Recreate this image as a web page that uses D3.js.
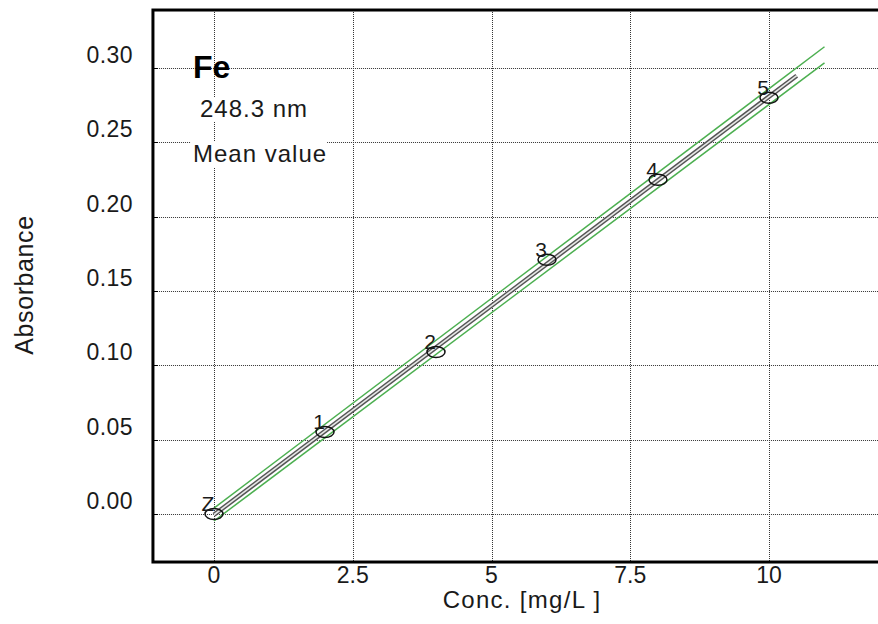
<!DOCTYPE html>
<html>
<head>
<meta charset="utf-8">
<script src="https://cdn.jsdelivr.net/npm/d3@7"></script>
<style>
  body { margin: 0; background: #fff; }
  svg text { font-family: "Liberation Sans", Arial, sans-serif; fill: #1a1a1a; }
</style>
</head>
<body>
<div id="chart"></div>
<script>
// calibration standards (Fe, 248.3 nm)
const labels = ["Z", "1", "2", "3", "4", "5"];
const conc = [0, 2, 4, 6, 8, 10];
const absorbance = [0.000, 0.0552, 0.109, 0.171, 0.2248, 0.280];

// fitted line and confidence band
const fitX = [0, 10.5];
const fitY = [-0.0005, 0.2948];
const bandX = [0, 11];
const bandUpper = [0.0040, 0.3143];
const bandLower = [-0.0047, 0.3035];

const xTicks = [0, 2.5, 5, 7.5, 10];
const xTickLabels = ["0", "2.5", "5", "7.5", "10"];
const yTicks = [0, 0.05, 0.10, 0.15, 0.20, 0.25, 0.30];

const width = 878, height = 624;

const svg = d3.select("#chart").append("svg")
    .attr("width", width)
    .attr("height", height);

const x = d3.scaleLinear().domain([0, 10]).range([214, 769]);
const y = d3.scaleLinear().domain([0, 0.30]).range([514, 68]);

const frameL = x(-1.1), frameR = width + 20;
const frameT = y(0.339), frameB = y(-0.0323);

// dotted grid
svg.append("g").selectAll("line")
    .data(yTicks)
    .join("line")
    .attr("x1", frameL).attr("x2", frameR)
    .attr("y1", d => Math.round(y(d)) + 0.5)
    .attr("y2", d => Math.round(y(d)) + 0.5)
    .attr("stroke", "#333")
    .attr("stroke-dasharray", "1,1");

svg.append("g").selectAll("line")
    .data(xTicks)
    .join("line")
    .attr("x1", d => Math.round(x(d)) + 0.5)
    .attr("x2", d => Math.round(x(d)) + 0.5)
    .attr("y1", frameT).attr("y2", frameB)
    .attr("stroke", "#333")
    .attr("stroke-dasharray", "1,1");

// small ticks on the left axis
svg.append("g").selectAll("line")
    .data(yTicks)
    .join("line")
    .attr("x1", frameL).attr("x2", frameL + 5)
    .attr("y1", d => Math.round(y(d)) + 0.5)
    .attr("y2", d => Math.round(y(d)) + 0.5)
    .attr("stroke", "#000");

// info texts (two of them sit on white boxes)
svg.append("text")
    .attr("x", 193).attr("y", 78)
    .attr("font-size", 32).attr("font-weight", "bold")
    .style("fill", "#000")
    .text("Fe");

const info = [["248.3 nm", 200, 117], ["Mean value", 193, 162]];
info.forEach(([t, tx, ty]) => {
    const g = svg.append("g");
    const box = g.append("rect").attr("fill", "#fff");
    const txt = g.append("text")
        .attr("x", tx).attr("y", ty)
        .attr("font-size", 24)
        .attr("letter-spacing", 1)
        .text(t);
    const bb = txt.node().getBBox();
    box.attr("x", bb.x - 2).attr("y", bb.y + 2)
        .attr("width", bb.width + 2).attr("height", bb.height - 2);
});

// confidence band
const band = [bandUpper, bandLower];
svg.append("g").selectAll("line")
    .data(band)
    .join("line")
    .attr("x1", x(bandX[0])).attr("x2", x(bandX[1]))
    .attr("y1", d => y(d[0])).attr("y2", d => y(d[1]))
    .attr("stroke", "#4caf50")
    .attr("stroke-width", 1.5);

// regression line: dark outline with light centre
svg.append("line")
    .attr("x1", x(fitX[0])).attr("x2", x(fitX[1]))
    .attr("y1", y(fitY[0])).attr("y2", y(fitY[1]))
    .attr("stroke", "#555")
    .attr("stroke-width", 4.5);
svg.append("line")
    .attr("x1", x(fitX[0])).attr("x2", x(fitX[1]))
    .attr("y1", y(fitY[0])).attr("y2", y(fitY[1]))
    .attr("stroke", "#e8e8e8")
    .attr("stroke-width", 1.6);

// standards
const pts = conc.map((c, i) => ({ c, a: absorbance[i], l: labels[i] }));

svg.append("g").selectAll("ellipse")
    .data(pts)
    .join("ellipse")
    .attr("cx", d => x(d.c))
    .attr("cy", d => y(d.a))
    .attr("rx", 9).attr("ry", 5.5)
    .attr("fill", "none")
    .attr("stroke", "#111")
    .attr("stroke-width", 1.5);

svg.append("g").selectAll("text")
    .data(pts)
    .join("text")
    .attr("x", d => x(d.c) - 6)
    .attr("y", d => y(d.a) - 3)
    .attr("text-anchor", "middle")
    .attr("font-size", 21)
    .text(d => d.l);

// frame
svg.append("rect")
    .attr("x", frameL).attr("y", frameT)
    .attr("width", frameR - frameL).attr("height", frameB - frameT)
    .attr("fill", "none")
    .attr("stroke", "#000")
    .attr("stroke-width", 3);

// tick labels
svg.append("g").selectAll("text")
    .data(xTicks)
    .join("text")
    .attr("x", d => x(d))
    .attr("y", frameB + 21)
    .attr("text-anchor", "middle")
    .attr("font-size", 23)
    .text((d, i) => xTickLabels[i]);

svg.append("g").selectAll("text")
    .data(yTicks)
    .join("text")
    .attr("x", frameL - 20)
    .attr("y", d => y(d) - 5)
    .attr("text-anchor", "end")
    .attr("font-size", 23)
    .attr("letter-spacing", 0.4)
    .text(d => d3.format(".2f")(d));

// axis titles
svg.append("text")
    .attr("x", 522).attr("y", 608)
    .attr("text-anchor", "middle")
    .attr("font-size", 24)
    .attr("letter-spacing", 1.3)
    .text("Conc. [mg/L ]");

svg.append("text")
    .attr("transform", "translate(33,285) rotate(-90)")
    .attr("text-anchor", "middle")
    .attr("font-size", 25)
    .attr("letter-spacing", 0.6)
    .text("Absorbance");
</script>
</body>
</html>
